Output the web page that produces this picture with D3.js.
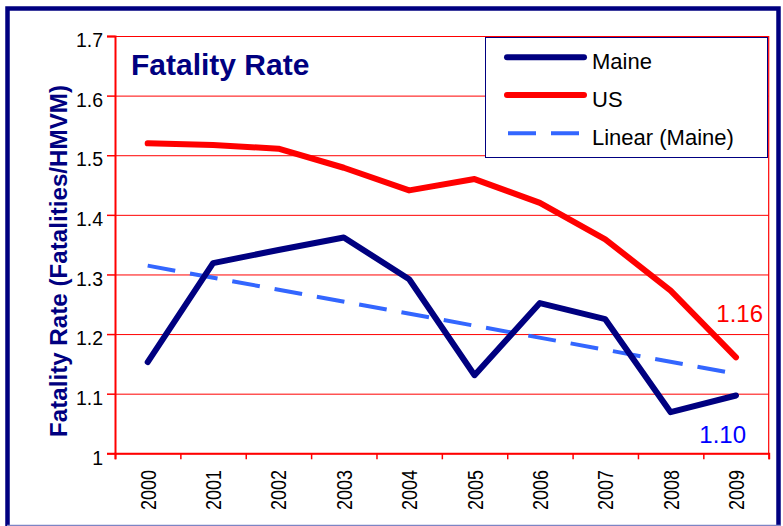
<html>
<head>
<style>
  body { margin:0; background:#fff; font-family:"Liberation Sans", Arial, sans-serif; }
</style>
</head>
<body>
<svg id="chart"></svg>
<script src="https://cdn.jsdelivr.net/npm/d3@7"></script>
<script>
const years = ["2000","2001","2002","2003","2004","2005","2006","2007","2008","2009"];
const maine = [1.153, 1.319, 1.341, 1.362, 1.292, 1.131, 1.252, 1.225, 1.069, 1.097];
const us    = [1.520, 1.517, 1.511, 1.479, 1.441, 1.460, 1.420, 1.359, 1.273, 1.161];
const yTicks = [1, 1.1, 1.2, 1.3, 1.4, 1.5, 1.6, 1.7];
const usEndLabel = "1.16";
const maineEndLabel = "1.10";

const width = 783, height = 526;
const plot = { left: 115, right: 768.7, top: 36, bottom: 453.3 };

const svg = d3.select("#chart").attr("width", width).attr("height", height);

const x = d3.scaleBand().domain(years).range([plot.left, plot.right]).padding(0);
const xb = d3.scaleLinear().domain([0, years.length]).range([plot.left, plot.right]);
const y = d3.scaleLinear().domain([1, 1.7]).range([plot.bottom, plot.top]);
const cx = d => x(d) + x.bandwidth() / 2;

// outer frame
svg.append("rect")
    .attr("x", 7.5).attr("y", 8.5)
    .attr("width", 771).attr("height", 540)
    .attr("fill", "none").attr("stroke", "#000080").attr("stroke-width", 4.5);
svg.append("line")
    .attr("x1", 7).attr("x2", 781).attr("y1", 525.5).attr("y2", 525.5)
    .attr("stroke", "#7d84c4").attr("stroke-width", 1.5);

// gridlines
svg.append("g")
    .attr("transform", `translate(${plot.left},0)`)
    .call(d3.axisLeft(y).tickValues(yTicks).tickSize(-(plot.right - plot.left)).tickFormat(""))
    .call(g => g.select(".domain").remove())
    .call(g => g.selectAll("line").attr("stroke", "#ff0000").attr("stroke-width", 1));

// plot border (right)
svg.append("line")
    .attr("x1", plot.right).attr("x2", plot.right).attr("y1", plot.top).attr("y2", plot.bottom)
    .attr("stroke", "#ff0000").attr("stroke-width", 1.2);

// y axis
svg.append("g")
    .attr("transform", `translate(${plot.left},0)`)
    .call(d3.axisLeft(y).tickValues(yTicks).tickSize(8).tickPadding(4)
        .tickFormat(d => d === 1 ? "1" : d.toFixed(1)))
    .call(g => g.select(".domain").attr("stroke", "#ff0000").attr("stroke-width", 2))
    .call(g => g.selectAll(".tick line").attr("stroke", "#ff0000").attr("stroke-width", 1.5))
    .call(g => g.selectAll(".tick text")
        .attr("font-family", "Liberation Sans, Arial, sans-serif")
        .attr("font-size", 19.5).attr("fill", "#000")
        .attr("dy", "0.55em"));

// x axis ticks at category boundaries
svg.append("g")
    .attr("transform", `translate(0,${plot.bottom})`)
    .call(d3.axisBottom(xb).ticks(years.length).tickSize(6).tickFormat(""))
    .call(g => g.select(".domain").attr("stroke", "#ff0000").attr("stroke-width", 2))
    .call(g => g.selectAll(".tick line").attr("stroke", "#ff0000").attr("stroke-width", 1.5));

// x labels
svg.append("g").selectAll("text")
    .data(years)
    .join("text")
    .attr("transform", d => `translate(${cx(d) + 8},470) rotate(-90)`)
    .attr("text-anchor", "end")
    .attr("font-size", 22)
    .attr("textLength", 40)
    .attr("lengthAdjust", "spacingAndGlyphs")
    .attr("fill", "#000")
    .text(d => d);

// y axis title
svg.append("text")
    .attr("transform", "translate(67,261) rotate(-90)")
    .attr("text-anchor", "middle")
    .attr("font-size", 23)
    .attr("font-weight", "bold")
    .attr("textLength", 352)
    .attr("lengthAdjust", "spacingAndGlyphs")
    .attr("fill", "#000080")
    .text("Fatality Rate (Fatalities/HMVM)");

// chart title
svg.append("text")
    .attr("x", 131).attr("y", 75)
    .attr("font-size", 30)
    .attr("font-weight", "bold")
    .attr("fill", "#000080")
    .text("Fatality Rate");

// trend line (least squares on Maine values)
const n = maine.length;
const xm = d3.mean(d3.range(n)), ym = d3.mean(maine);
const slope = d3.sum(d3.range(n), i => (i - xm) * (maine[i] - ym)) / d3.sum(d3.range(n), i => (i - xm) ** 2);
const trend = [0, n - 1].map(i => ({ year: years[i], v: ym + slope * (i - xm) }));

const line = d3.line().x(d => cx(d.year)).y(d => y(d.v));

svg.append("path")
    .datum(trend)
    .attr("d", line)
    .attr("fill", "none")
    .attr("stroke", "#3366ff")
    .attr("stroke-width", 4)
    .attr("stroke-dasharray", "28,15");

svg.append("path")
    .datum(years.map((yr, i) => ({ year: yr, v: us[i] })))
    .attr("d", line)
    .attr("fill", "none")
    .attr("stroke", "#ff0000")
    .attr("stroke-width", 6)
    .attr("stroke-linecap", "round")
    .attr("stroke-linejoin", "round");

svg.append("path")
    .datum(years.map((yr, i) => ({ year: yr, v: maine[i] })))
    .attr("d", line)
    .attr("fill", "none")
    .attr("stroke", "#000080")
    .attr("stroke-width", 6)
    .attr("stroke-linecap", "round")
    .attr("stroke-linejoin", "round");

// end labels
svg.append("text")
    .attr("x", 763).attr("y", 322)
    .attr("text-anchor", "end")
    .attr("font-size", 24)
    .attr("fill", "#ff0000")
    .text(usEndLabel);
svg.append("text")
    .attr("x", 746).attr("y", 443)
    .attr("text-anchor", "end")
    .attr("font-size", 24)
    .attr("fill", "#0000ff")
    .text(maineEndLabel);

// legend
const legend = svg.append("g");
legend.append("rect")
    .attr("x", 485.5).attr("y", 37.5)
    .attr("width", 282).attr("height", 120)
    .attr("fill", "#fff").attr("stroke", "#000080").attr("stroke-width", 1);

const legendItems = [
    { name: "Maine", color: "#000080", dash: null, w: 6, y: 57.3 },
    { name: "US", color: "#ff0000", dash: null, w: 6, y: 95 },
    { name: "Linear (Maine)", color: "#3366ff", dash: "28,15", w: 4, y: 133.3 }
];
legendItems.forEach(d => {
    legend.append("line")
        .attr("x1", d.dash ? 508 : 507).attr("x2", d.dash ? 581 : 584)
        .attr("y1", d.y).attr("y2", d.y)
        .attr("stroke", d.color).attr("stroke-width", d.w)
        .attr("stroke-linecap", d.dash ? "butt" : "round")
        .attr("stroke-dasharray", d.dash);
    legend.append("text")
        .attr("x", 592).attr("y", d.y + 11.5)
        .attr("font-size", 22)
        .attr("fill", "#000")
        .text(d.name);
});
</script>
</body>
</html>
